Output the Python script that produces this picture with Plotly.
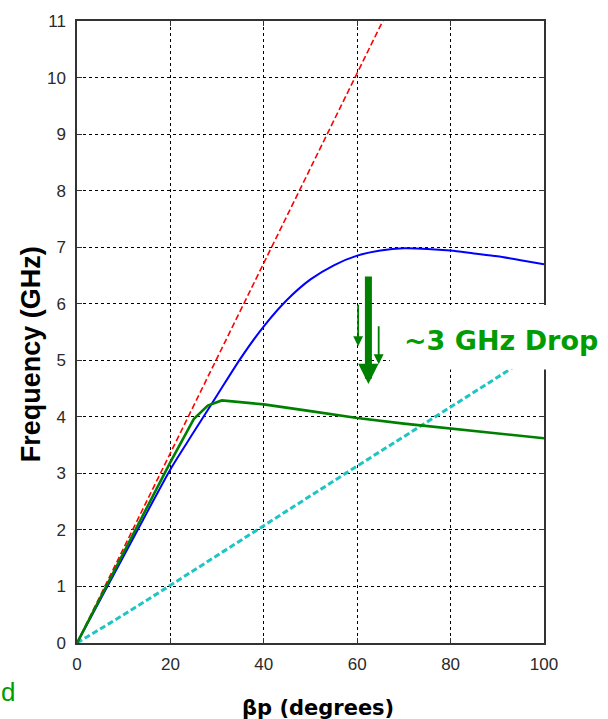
import plotly.graph_objects as go

# Light line (red dashed)
light_x = [0, 10, 20, 30, 40, 50, 60, 70]
light_f = [0, 1.68, 3.36, 5.04, 6.72, 8.40, 10.08, 11.76]

# Unloaded line dispersion (blue)
blue_x = [0, 5, 10, 15, 20, 25, 30, 35, 40, 45, 50, 55, 60, 65, 70, 75, 80, 85, 90, 95, 100]
blue_f = [0, 0.77, 1.54, 2.31, 3.07, 3.73, 4.38, 5.03, 5.60, 6.07, 6.43, 6.68, 6.85, 6.94, 6.98, 6.97, 6.94, 6.89, 6.84, 6.77, 6.70]

# Loaded line dispersion (green)
green_x = [0, 5, 10, 15, 20, 25, 28, 31, 40, 50, 60, 70, 80, 90, 100]
green_f = [0, 0.80, 1.60, 2.40, 3.20, 3.96, 4.20, 4.29, 4.22, 4.10, 3.98, 3.88, 3.79, 3.70, 3.62]

# Slow reference line (cyan dashed)
cyan_x = [0, 10, 20, 30, 40, 50, 60, 70, 80, 90, 100]
cyan_f = [0, 0.50, 1.02, 1.55, 2.08, 2.60, 3.13, 3.65, 4.17, 4.70, 5.22]

# Arrows marking the drop: (x, y_tail, y_head, shaft width, head size)
arrow_x = [62.4, 60.2, 64.6]
arrow_tail = [6.51, 6.01, 5.63]
arrow_head = [4.58, 5.25, 4.93]
arrow_width = [7, 1.8, 1.8]
arrow_size = [0.58, 1.1, 1.1]

x_ticks = [0, 20, 40, 60, 80, 100]
y_ticks = list(range(0, 12))

GREEN = "#008000"
TEXT_GREEN = "#009c00"

fig = go.Figure()
fig.add_trace(go.Scatter(x=cyan_x, y=cyan_f, mode="lines",
                         line=dict(color="#1fc4c4", width=3, dash="6px,3px")))
fig.add_trace(go.Scatter(x=light_x, y=light_f, mode="lines",
                         line=dict(color="#ff0000", width=1.6, dash="6px,3px")))
fig.add_trace(go.Scatter(x=blue_x, y=blue_f, mode="lines", line_shape="spline",
                         line=dict(color="#0000ff", width=2, smoothing=0.8)))
fig.add_trace(go.Scatter(x=green_x, y=green_f, mode="lines",
                         line=dict(color=GREEN, width=2.6)))

tick_font = dict(family="Liberation Sans, Arial, sans-serif", size=17, color="#2a2a2a")

axis_common = dict(
    showgrid=True, gridcolor="#000000", gridwidth=1, griddash="3px,3px",
    showline=True, linecolor="#333333", linewidth=1.5, mirror="ticks",
    ticks="inside", ticklen=5, tickcolor="#333333",
    zeroline=False, tickfont=tick_font,
)

fig.update_layout(
    width=608, height=719,
    margin=dict(l=77, r=64, t=16, b=76),
    paper_bgcolor="white", plot_bgcolor="white",
    showlegend=False, hovermode=False,
    xaxis=dict(range=[0, 100], tickvals=x_ticks, ticklabelstandoff=5, **axis_common),
    yaxis=dict(range=[0, 11], tickvals=y_ticks, ticklabelstandoff=6, **axis_common),
)

# White panel behind the label
fig.add_shape(type="rect", xref="paper", yref="paper",
              x0=0.670, x1=1.14, y0=0.4397, y1=0.5434,
              fillcolor="white", line=dict(width=0), layer="above")

for xa, yt, yh, w, s in zip(arrow_x, arrow_tail, arrow_head, arrow_width, arrow_size):
    fig.add_annotation(x=xa, y=yh, ax=xa, ay=yt, xref="x", yref="y", axref="x", ayref="y",
                       text="", showarrow=True, arrowhead=2, arrowwidth=w,
                       arrowsize=s, arrowcolor=GREEN)

fig.add_annotation(text="~3 GHz Drop", xref="paper", yref="paper", x=0.908, y=0.486,
                   xanchor="center", yanchor="middle", showarrow=False,
                   font=dict(family="DejaVu Sans", size=27, color=TEXT_GREEN, weight="bold"))

fig.add_annotation(text="Frequency (GHz)", xref="paper", yref="paper",
                   x=(31 - 77) / 467.6, y=(642.7 - 351.5) / 627,
                   xanchor="center", yanchor="middle", textangle=-90, showarrow=False,
                   font=dict(family="Liberation Sans, Arial, sans-serif", size=27,
                             color="#000000", weight="bold"))

fig.add_annotation(text="βp (degrees)", xref="paper", yref="paper",
                   x=(318.5 - 77) / 467.6, y=(642.7 - 708) / 627,
                   xanchor="center", yanchor="middle", showarrow=False,
                   font=dict(family="DejaVu Sans", size=21, color="#000000", weight="bold"))

fig.add_annotation(text="d", xref="paper", yref="paper",
                   x=(0 - 77) / 467.6, y=(642.7 - 692) / 627,
                   xanchor="left", yanchor="middle", showarrow=False, borderpad=0,
                   font=dict(family="Liberation Sans, Arial, sans-serif", size=26, color=TEXT_GREEN))

fig.write_html("out.html")
